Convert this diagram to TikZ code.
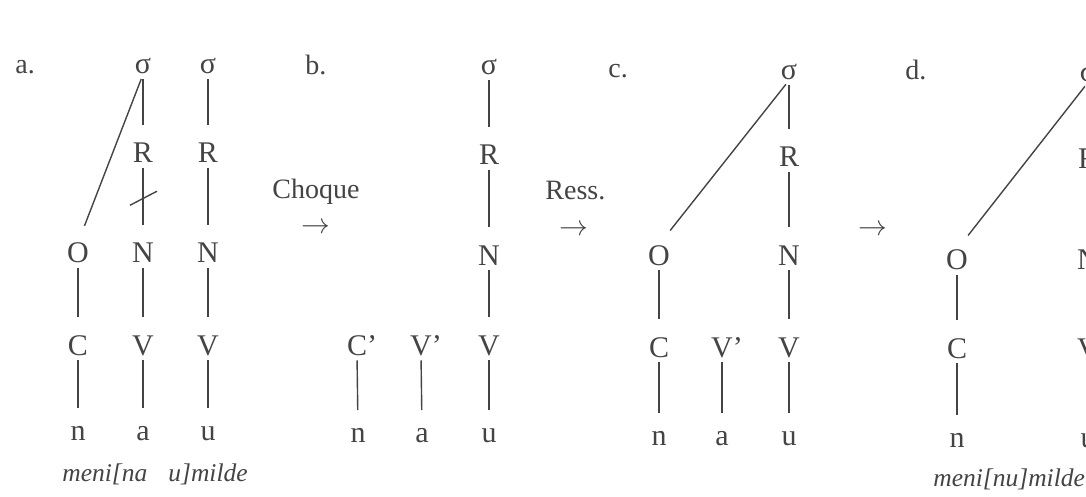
\documentclass[tikz,border=0pt]{standalone}
\usepackage{fontspec}
\setmainfont{Liberation Serif}
\usetikzlibrary{calc}
\definecolor{ink}{HTML}{444444}
\begin{document}
\begin{tikzpicture}[x=0.5pt,y=-0.5pt,
  tn/.style={font=\fontsize{15}{15}\selectfont, text=ink, inner sep=0pt, text height=10pt, text depth=0pt, anchor=base},
  tl/.style={tn, text height=6.8pt},
  lab/.style={font=\fontsize{14}{14}\selectfont, text=ink, inner sep=0pt, anchor=base west},
  gl/.style={font=\fontsize{12.75}{12.75}\selectfont\itshape, text=ink, inner sep=0pt, anchor=base west},
  tie/.style={draw=ink, line width=0.7pt, shorten <=2.5pt, shorten >=9pt},
  cutmark/.style={draw=ink, line width=0.7pt},
  arr/.style={font=\fontsize{15}{15}\selectfont, text=ink, inner sep=0pt}]
\useasboundingbox (0,0) rectangle (1086,497);
\fill[white] (0,0) rectangle (1086,497);
\clip (0,0) rectangle (1086,497);

% ---------- a ----------
\node[lab] (la) at (15,74) {a.};
\node[tl] (as1) at (143,74) {σ};
\node[tl] (as2) at (208,74) {σ};
\node[tn] (aR1) at (143,163) {R};
\node[tn] (aR2) at (208,163) {R};
\node[tn] (aO) at (78,263) {O};
\node[tn] (aN1) at (143,263) {N};
\node[tn] (aN2) at (208,263) {N};
\node[tn] (aC) at (78,355) {C};
\node[tn] (aV1) at (143,355) {V};
\node[tn] (aV2) at (208,355) {V};
\node[tl] (an) at (78,440) {n};
\node[tl] (aa) at (143,440) {a};
\node[tl] (au) at (208,440) {u};
\node[gl] (ag1) at (62,481) {meni[na};
\node[gl] (ag2) at (168,481) {u]milde};
\draw[tie] (as1.south) -- (aO.north);
\draw[tie] (as1.south) -- (aR1.north);
\draw[tie] (aR1.south) -- (aN1.north) coordinate[pos=0.44] (ax);
\draw[cutmark] ($(ax)+(-13,7)$) -- ($(ax)+(14,-7)$);
\draw[tie] (as2.south) -- (aR2.north);
\draw[tie] (aR2.south) -- (aN2.north);
\draw[tie] (aO.south) -- (aC.north);
\draw[tie] (aN1.south) -- (aV1.north);
\draw[tie] (aN2.south) -- (aV2.north);
\draw[tie] (aC.south) -- (an.north);
\draw[tie] (aV1.south) -- (aa.north);
\draw[tie] (aV2.south) -- (au.north);

% ---------- b ----------
\node[lab] (lb) at (305,75) {b.};
\node[lab] (choque) at (272,199) {Choque};
\node[arr] (arb) at (316,228) {$\rightarrow$};
\node[tl] (bs) at (489,75) {σ};
\node[tn] (bR) at (489,165) {R};
\node[tn] (bN) at (489,265) {N};
\node[tn] (bC) at (357,355) {C\rlap{'}};
\node[tn] (bVp) at (421,355) {V\rlap{'}};
\node[tn] (bV) at (489,355) {V};
\node[tl] (bn) at (358,442) {n};
\node[tl] (ba) at (422,442) {a};
\node[tl] (bu) at (489,442) {u};
\draw[tie] (bs.south) -- (bR.north);
\draw[tie] (bR.south) -- (bN.north);
\draw[tie] (bN.south) -- (bV.north);
\draw[tie] (bC.south) -- (bn.north);
\draw[tie] (bVp.south) -- (ba.north);
\draw[tie] (bV.south) -- (bu.north);

% ---------- c ----------
\node[lab] (lc) at (608,78) {c.};
\node[lab] (ress) at (545,200) {Ress.};
\node[arr] (arc) at (574,230) {$\rightarrow$};
\node[tl] (cs) at (789,80) {σ};
\node[tn] (cR) at (789,167) {R};
\node[tn] (cO) at (659,265) {O};
\node[tn] (cN) at (789,265) {N};
\node[tn] (cC) at (659,357) {C};
\node[tn] (cVp) at (722,357) {V\rlap{'}};
\node[tn] (cV) at (789,357) {V};
\node[tl] (cn) at (659,445) {n};
\node[tl] (ca) at (722,445) {a};
\node[tl] (cu) at (789,445) {u};
\draw[tie] (cs.south) -- (cO.north);
\draw[tie] (cs.south) -- (cR.north);
\draw[tie] (cR.south) -- (cN.north);
\draw[tie] (cO.south) -- (cC.north);
\draw[tie] (cN.south) -- (cV.north);
\draw[tie] (cC.south) -- (cn.north);
\draw[tie] (cVp.south) -- (ca.north);
\draw[tie] (cV.south) -- (cu.north);

% ---------- d ----------
\node[lab] (ld) at (905,80) {d.};
\node[arr] (ard) at (873,230) {$\rightarrow$};
\node[tl] (ds) at (1088,82) {σ};
\node[tn] (dR) at (1088,169) {R};
\node[tn] (dO) at (957,270) {O};
\node[tn] (dN) at (1088,270) {N};
\node[tn] (dC) at (957,358) {C};
\node[tn] (dV) at (1088,358) {V};
\node[tl] (dn) at (957,447) {n};
\node[tl] (du) at (1088,447) {u};
\node[gl] (dg) at (933,486) {meni[nu]milde};
\draw[tie] (ds.south) -- (dO.north);
\draw[tie] (ds.south) -- (dR.north);
\draw[tie] (dR.south) -- (dN.north);
\draw[tie] (dO.south) -- (dC.north);
\draw[tie] (dN.south) -- (dV.north);
\draw[tie] (dC.south) -- (dn.north);
\draw[tie] (dV.south) -- (du.north);
\end{tikzpicture}
\end{document}
